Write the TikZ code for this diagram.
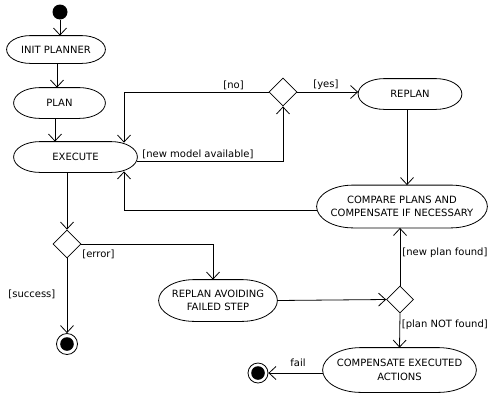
\documentclass[tikz,border=0pt]{standalone}
\usepackage{fontspec}
\setmainfont{DejaVu Sans}
\usetikzlibrary{arrows.meta,shapes.geometric,calc}
\newcommand\actoutline[1]{%
  \draw let \p1=(#1.north east), \p2=(#1.south west),
    \n1={(\y1-\y2)/2}, \n2={min(1.7*\n1,(\x1-\x2)/2)} in
    (\x2+\n2,\y1) -- (\x1-\n2,\y1)
    arc[start angle=90,end angle=-90,x radius=\n2,y radius=\n1]
    -- (\x2+\n2,\y2)
    arc[start angle=270,end angle=90,x radius=\n2,y radius=\n1]
    -- cycle;}
\begin{document}
\begin{tikzpicture}[x=1pt,y=-1pt, line width=0.8pt,
  font=\fontsize{10}{13.5}\selectfont,
  act/.style={rectangle, inner sep=0pt, align=center},
  dec/.style={diamond, draw, inner sep=0pt, minimum width=28pt, minimum height=28pt},
  flow/.style={-{Straight Barb[length=7pt,width=13pt]}},
  lbl/.style={inner sep=0pt, anchor=west},
  startnode/.style={circle, fill=black, inner sep=0pt, minimum size=15pt},
  endnode/.style={circle, draw, inner sep=0pt, minimum size=21pt,
    path picture={\fill (path picture bounding box.center) circle (6.8pt);}}
]
\useasboundingbox (0,0) rectangle (489,394);

% nodes
\node[startnode] (start) at (60,12) {};
\node[act, minimum width=98pt, minimum height=27pt] (init) at (56,49.5) {INIT PLANNER};
\node[act, minimum width=91pt, minimum height=30pt] (plan) at (59.5,103) {PLAN};
\node[act, minimum width=123pt, minimum height=30pt] (exec) at (75.5,157) {EXECUTE};
\node[dec] (d1) at (283,92) {};
\node[act, minimum width=103pt, minimum height=30pt] (replan) at (410,94) {REPLAN};
\node[act, minimum width=170pt, minimum height=42pt] (compare) at (402,206.5) {COMPARE PLANS AND\\COMPENSATE IF NECESSARY};
\node[dec] (d2) at (67,244) {};
\node[endnode] (final1) at (67,344) {};
\node[act, minimum width=118pt, minimum height=41pt] (avoid) at (218,300.5) {REPLAN AVOIDING\\FAILED STEP};
\node[dec, minimum width=27pt, minimum height=27pt] (d3) at (400,299.5) {};
\node[act, minimum width=153pt, minimum height=44pt] (comp2) at (399.5,370) {COMPENSATE EXECUTED\\ACTIONS};
\node[endnode, minimum size=20pt] (final2) at (258,373) {};

\foreach \nd in {init,plan,exec,replan,compare,avoid,comp2} {\actoutline{\nd}}

% helper coordinates
\coordinate (nocorner) at (124,92);
\coordinate (nm) at (283,161);
\coordinate (cl) at (124,210);
\coordinate (err) at (213,244);

% connectors
\draw[flow] (start) -- (start |- init.north);
\draw[flow] ([xshift=1pt]init.south) -- ([xshift=1pt]init.south |- plan.north);
\draw[flow] ([xshift=-4.5pt]plan.south) -- ([xshift=-4.5pt]plan.south |- exec.north);
\draw[flow] (d1.west) -- (nocorner) -- ([yshift=-1pt]nocorner |- exec.north);
\draw[flow] (d1.east) -- (d1.east -| replan.west);
\draw[flow] (exec.east |- nm) -- (nm) -- (d1.south);
\draw[flow] ([xshift=-3pt]replan.south) -- ([xshift=-3pt]replan.south |- compare.north);
\draw[flow] (compare.west |- cl) -- (cl) -- ([yshift=1pt]cl |- exec.south);
\draw[flow] (d2 |- exec.south) -- (d2.north);
\draw[flow] (d2.east) -- (err) -- (err |- avoid.north);
\draw[flow] (d2.south) -- (final1.north);
\draw[flow] (avoid.east) -- (d3.west);
\draw[flow] (d3.north) -- (d3 |- compare.south);
\draw[flow] (d3.south) -- (comp2.north);
\draw[flow] (comp2.west |- final2) -- (final2.east);

% labels
\node[lbl] (lno) at (223,85) {[no]};
\node[lbl] (lyes) at (313,85) {[yes]};
\node[lbl] (lnm) at (142,154) {[new model available]};
\node[lbl] (lerr) at (82,254) {[error]};
\node[lbl] (lsucc) at (8,294) {[success]};
\node[lbl] (lnpf) at (402,253) {[new plan found]};
\node[lbl] (lpnf) at (401.5,325) {[plan NOT found]};
\node[lbl] (lfail) at (290,363) {fail};
\end{tikzpicture}
\end{document}
